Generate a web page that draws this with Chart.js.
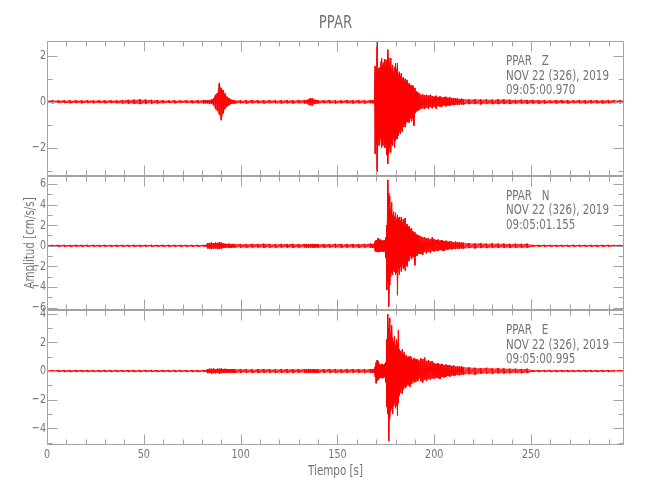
<!DOCTYPE html>
<html><head><meta charset="utf-8">
<script src="https://cdn.jsdelivr.net/npm/chart.js@4.4.1/dist/chart.umd.min.js"></script>
<style>html,body{margin:0;padding:0;background:#fff;} canvas{display:block;}</style>
</head><body>
<canvas id="c" width="650" height="500"></canvas>
<script>
// ---------------- texts ----------------
const stationName = 'PPAR';
const components = ['Z', 'N', 'E'];
const recordDate = 'NOV 22 (326), 2019';
const startTimes = ['09:05:00.970', '09:05:01.155', '09:05:00.995'];
const xTitle = 'Tiempo [s]';
const yTitle = 'Amplitud [cm/s/s]';

// ---------------- axes ----------------
const xRange = [0, 298];
const xMajorTicks = [0, 50, 100, 150, 200, 250];
const xMinorStep = 10;
const yRangeZ = [-3.21, 2.64];
const yTicksZ = [-2, 0, 2];
const yRangeN = [-6.27, 6.81];
const yTicksN = [-6, -4, -2, 0, 2, 4, 6];
const yRangeE = [-5.17, 4.24];
const yTicksE = [-4, -2, 0, 2, 4];

// ---------------- data: time grid (s) and per-sample envelope (cm/s/s) ----------------
const times = [
  0,3,6,9,12,15,18,21,24,27,30,33,36,39,42,45,48,51,54,57,60,63,66,69,72,75,78,81,
  82,83,84,85,86,87,88,89,90,91,92,93,94,95,96,97,
  100,103,106,109,112,115,118,121,124,127,130,
  133,134,135,136,137,138,139,140,
  143,146,149,152,155,158,161,164,167,
  168,169,169.5,170,170.5,171,171.5,172,172.5,173,173.5,174,174.5,175,175.5,176,176.5,177,177.5,178,178.5,179,179.5,180,180.5,181,181.5,182,182.5,183,183.5,184,184.5,185,185.5,186,186.5,187,187.5,188,188.5,189,189.5,190,190.5,191,191.5,192,
  193,194,195,196,197,198,199,200,201,202,203,204,205,206,207,208,209,210,211,212,213,214,215,
  218,221,224,227,230,233,236,239,242,245,248,251,254,257,260,263,266,269,272,275,278,281,284,287,290,293,296,298
];

const hiZ = [
  0.05,0.06,0.05,0.06,0.05,0.06,0.05,0.06,0.05,0.06,0.05,0.06,0.05,0.07,0.08,0.09,0.1,0.09,0.08,0.07,0.06,0.05,0.06,0.05,0.06,0.05,0.06,0.07,
  0.07,0.06,0.08,0.1,0.14,0.3,0.38,0.82,0.6,0.5,0.35,0.22,0.16,0.1,0.08,0.07,
  0.06,0.06,0.07,0.06,0.06,0.07,0.06,0.06,0.07,0.06,0.07,
  0.07,0.08,0.1,0.16,0.14,0.1,0.08,0.07,
  0.06,0.07,0.06,0.06,0.07,0.06,0.07,0.06,0.07,
  0.06,0.07,1.55,1.2,2.6,1.45,1.3,1.5,1.75,1.9,1.6,1.7,1.85,1.5,1.8,2.26,1.9,1.6,1.9,1.45,1.6,1.3,1.5,1.68,1.4,1.68,1.2,1.3,1.1,1.25,1.0,1.05,0.9,1.0,0.85,0.95,0.75,0.8,0.7,0.73,0.6,0.7,0.55,0.6,0.45,0.44,0.4,0.38,
  0.3,0.32,0.28,0.3,0.26,0.3,0.25,0.22,0.26,0.2,0.24,0.18,0.2,0.22,0.17,0.2,0.15,0.16,0.14,0.15,0.12,0.13,0.12,
  0.1,0.11,0.1,0.1,0.09,0.1,0.1,0.09,0.08,0.09,0.08,0.08,0.07,0.07,0.06,0.07,0.07,0.06,0.06,0.07,0.06,0.07,0.06,0.06,0.07,0.06,0.06,0.06
];
const loZ = [
  -0.05,-0.06,-0.05,-0.05,-0.06,-0.05,-0.06,-0.05,-0.06,-0.05,-0.06,-0.05,-0.06,-0.07,-0.08,-0.09,-0.1,-0.08,-0.08,-0.07,-0.06,-0.05,-0.06,-0.05,-0.05,-0.06,-0.06,-0.07,
  -0.06,-0.07,-0.08,-0.1,-0.15,-0.32,-0.4,-0.55,-0.8,-0.5,-0.3,-0.2,-0.15,-0.1,-0.08,-0.07,
  -0.06,-0.07,-0.06,-0.06,-0.07,-0.06,-0.06,-0.07,-0.06,-0.07,-0.06,
  -0.07,-0.08,-0.12,-0.15,-0.16,-0.1,-0.08,-0.07,
  -0.06,-0.06,-0.07,-0.06,-0.06,-0.07,-0.06,-0.07,-0.06,
  -0.06,-0.07,-2.26,-1.8,-3.04,-1.7,-1.9,-1.6,-2.0,-1.7,-1.9,-1.5,-2.0,-1.8,-2.3,-2.7,-2.2,-1.9,-2.2,-1.8,-1.9,-1.6,-2.0,-1.7,-1.6,-1.6,-1.46,-1.3,-1.4,-1.2,-1.3,-1.1,-1.0,-1.1,-0.9,-0.88,-0.8,-0.9,-0.7,-0.85,-0.7,-0.75,-1.05,-0.5,-0.45,-0.36,-0.4,-0.35,
  -0.3,-0.28,-0.3,-0.25,-0.3,-0.22,-0.28,-0.2,-0.3,-0.18,-0.22,-0.2,-0.15,-0.2,-0.16,-0.18,-0.14,-0.15,-0.13,-0.14,-0.12,-0.11,-0.12,
  -0.1,-0.1,-0.11,-0.09,-0.1,-0.1,-0.09,-0.1,-0.08,-0.08,-0.09,-0.07,-0.08,-0.07,-0.06,-0.07,-0.06,-0.07,-0.06,-0.06,-0.07,-0.06,-0.06,-0.07,-0.06,-0.06,-0.06,-0.06
];

const hiN = [
  0.08,0.07,0.08,0.08,0.07,0.08,0.07,0.08,0.08,0.07,0.08,0.07,0.08,0.08,0.07,0.08,0.07,0.08,0.08,0.07,0.08,0.07,0.08,0.08,0.07,0.08,0.07,0.08,
  0.08,0.25,0.28,0.3,0.25,0.3,0.28,0.32,0.3,0.25,0.2,0.18,0.2,0.17,0.18,0.16,
  0.17,0.16,0.18,0.17,0.19,0.17,0.16,0.18,0.17,0.18,0.16,
  0.17,0.18,0.16,0.17,0.18,0.16,0.17,0.16,
  0.17,0.16,0.18,0.17,0.16,0.17,0.16,0.18,0.2,
  0.18,0.2,0.45,0.55,0.5,0.75,0.55,0.6,0.5,0.58,0.45,0.55,0.5,0.8,2.0,6.4,5.1,4.8,3.5,4.2,3.0,3.3,2.8,3.2,2.6,3.0,2.7,2.8,2.4,2.8,2.2,2.6,2.3,2.7,2.0,2.1,1.6,1.9,1.5,1.7,1.3,1.4,1.2,1.3,1.0,1.1,0.9,1.0,
  0.9,0.8,0.85,0.7,0.75,0.6,0.8,0.65,0.55,0.6,0.5,0.55,0.45,0.5,0.4,0.45,0.4,0.35,0.4,0.32,0.35,0.3,0.3,
  0.25,0.22,0.24,0.2,0.22,0.2,0.2,0.18,0.2,0.18,0.2,0.08,0.07,0.08,0.08,0.07,0.08,0.07,0.08,0.08,0.07,0.08,0.07,0.08,0.08,0.07,0.08,0.08
];
const loN = [
  -0.07,-0.08,-0.07,-0.08,-0.08,-0.07,-0.08,-0.07,-0.08,-0.08,-0.07,-0.08,-0.07,-0.08,-0.08,-0.07,-0.08,-0.07,-0.08,-0.08,-0.07,-0.08,-0.07,-0.08,-0.08,-0.07,-0.08,-0.07,
  -0.08,-0.25,-0.3,-0.28,-0.3,-0.25,-0.32,-0.3,-0.28,-0.22,-0.2,-0.17,-0.18,-0.2,-0.16,-0.17,
  -0.16,-0.18,-0.17,-0.16,-0.18,-0.17,-0.19,-0.16,-0.17,-0.18,-0.17,
  -0.16,-0.17,-0.18,-0.16,-0.17,-0.18,-0.16,-0.17,
  -0.18,-0.17,-0.16,-0.18,-0.17,-0.16,-0.18,-0.17,-0.2,
  -0.18,-0.2,-0.5,-0.6,-0.55,-0.62,-0.5,-0.6,-0.55,-0.5,-0.6,-0.5,-0.55,-1.2,-4.3,-3.5,-5.9,-3.8,-3.0,-2.6,-2.8,-2.4,-2.5,-2.8,-2.6,-4.8,-2.2,-2.8,-2.0,-2.5,-1.8,-2.2,-2.0,-2.4,-1.6,-2.0,-1.2,-1.5,-1.0,-1.3,-1.2,-1.1,-0.9,-1.9,-0.8,-1.0,-0.7,-0.8,
  -0.8,-0.9,-0.6,-0.75,-0.55,-0.7,-0.5,-0.55,-0.45,-0.5,-0.4,-0.45,-0.5,-0.35,-0.4,-0.3,-0.35,-0.3,-0.32,-0.28,-0.3,-0.25,-0.28,
  -0.22,-0.25,-0.2,-0.22,-0.2,-0.2,-0.18,-0.2,-0.18,-0.2,-0.18,-0.07,-0.08,-0.08,-0.07,-0.08,-0.07,-0.08,-0.08,-0.07,-0.08,-0.07,-0.08,-0.08,-0.07,-0.08,-0.07,-0.08
];

const hiE = [
  0.06,0.05,0.06,0.06,0.05,0.06,0.05,0.06,0.06,0.05,0.06,0.05,0.06,0.06,0.05,0.06,0.05,0.06,0.06,0.05,0.06,0.05,0.06,0.06,0.05,0.06,0.05,0.06,
  0.06,0.14,0.16,0.15,0.17,0.14,0.16,0.15,0.17,0.14,0.15,0.13,0.14,0.12,0.13,0.12,
  0.12,0.13,0.11,0.12,0.13,0.12,0.11,0.12,0.13,0.12,0.12,
  0.12,0.11,0.13,0.12,0.12,0.13,0.11,0.12,
  0.12,0.13,0.12,0.11,0.12,0.13,0.12,0.12,0.12,
  0.12,0.14,0.3,0.6,0.77,0.7,0.5,0.45,0.4,0.5,0.45,0.4,0.5,0.6,2.2,3.96,3.0,3.7,2.6,3.2,2.3,2.0,2.4,1.8,2.2,1.9,2.87,1.5,1.4,1.2,1.5,1.1,1.3,1.0,1.1,0.9,1.0,0.85,1.05,0.8,0.95,0.75,0.9,0.7,0.85,0.75,0.8,0.7,
  0.9,0.8,0.95,0.7,0.75,0.65,0.7,0.55,0.5,0.55,0.45,0.5,0.4,0.45,0.4,0.42,0.35,0.4,0.3,0.35,0.3,0.32,0.28,
  0.25,0.22,0.2,0.22,0.18,0.2,0.17,0.16,0.15,0.14,0.15,0.06,0.05,0.06,0.06,0.05,0.06,0.05,0.06,0.06,0.05,0.06,0.05,0.06,0.06,0.05,0.06,0.06
];
const loE = [
  -0.05,-0.06,-0.06,-0.05,-0.06,-0.05,-0.06,-0.06,-0.05,-0.06,-0.05,-0.06,-0.06,-0.05,-0.06,-0.05,-0.06,-0.06,-0.05,-0.06,-0.05,-0.06,-0.06,-0.05,-0.06,-0.05,-0.06,-0.06,
  -0.06,-0.15,-0.14,-0.17,-0.15,-0.16,-0.14,-0.17,-0.15,-0.13,-0.14,-0.12,-0.13,-0.12,-0.12,-0.13,
  -0.12,-0.11,-0.13,-0.12,-0.12,-0.11,-0.13,-0.12,-0.12,-0.13,-0.11,
  -0.12,-0.13,-0.12,-0.11,-0.12,-0.12,-0.13,-0.12,
  -0.11,-0.12,-0.13,-0.12,-0.12,-0.11,-0.12,-0.13,-0.12,
  -0.12,-0.14,-0.4,-0.86,-0.7,-0.6,-0.55,-0.45,-0.5,-0.4,-0.5,-0.45,-0.4,-0.8,-2.5,-3.0,-4.9,-3.3,-2.8,-2.6,-3.0,-2.5,-2.3,-2.6,-2.4,-3.1,-2.2,-1.7,-1.5,-1.2,-1.6,-1.3,-1.0,-1.2,-1.1,-0.9,-1.0,-0.8,-1.1,-0.7,-0.9,-0.65,-0.8,-0.6,-0.75,-0.55,-0.7,-0.5,
  -0.7,-0.8,-0.6,-0.7,-0.55,-0.6,-0.5,-0.55,-0.45,-0.5,-0.55,-0.4,-0.45,-0.4,-0.35,-0.4,-0.3,-0.35,-0.3,-0.28,-0.3,-0.25,-0.25,
  -0.22,-0.25,-0.2,-0.18,-0.2,-0.16,-0.17,-0.15,-0.14,-0.15,-0.13,-0.05,-0.06,-0.06,-0.05,-0.06,-0.05,-0.06,-0.06,-0.05,-0.06,-0.05,-0.06,-0.06,-0.05,-0.06,-0.05,-0.06
];

// ---------------- styling ----------------
const FONT = "'DejaVu Sans', sans-serif";
const WEIGHT = 'normal';
const TEXT = '#747474';
const AXIS = '#a3a3a3';
const TRACE = '#ff0000';
const BAND = 'rgba(255,0,0,0.7)';

[hiZ, loZ, hiN, loN, hiE, loE].forEach((a, i) => {
  if (a.length !== times.length) throw new Error('array ' + i + ' length ' + a.length + ' != ' + times.length);
});

// each sample -> vertical stroke from its upper to its lower excursion
function envelope(hi, lo) {
  const pts = [];
  for (let i = 0; i < times.length; i++) {
    pts.push({x: times[i], y: hi[i]});
    pts.push({x: times[i], y: lo[i]});
  }
  return pts;
}
const series = v => times.map((t, i) => ({x: t, y: v[i]}));
const fmt = v => (v < 0 ? '\u2212' + (-v) : String(v));

function panelScale(range, ticks) {
  return {
    type: 'linear', position: 'left', stack: 'panels', stackWeight: 1,
    min: range[0], max: range[1],
    grid: {display: false, drawTicks: false},
    border: {display: false},
    afterBuildTicks: s => { s.ticks = ticks.map(v => ({value: v})); },
    afterFit: s => { s.width = 47; },
    ticks: {display: false}
  };
}

const panels = [
  {id: 'yZ', ticks: yTicksZ},
  {id: 'yN', ticks: yTicksN},
  {id: 'yE', ticks: yTicksE}
];

let SX = 0.74;
function text(ctx, str, x, y, size, align, rot) {
  ctx.save();
  ctx.translate(x, y);
  if (rot) ctx.rotate(rot);
  ctx.scale(SX, 1);
  ctx.font = WEIGHT + ' ' + size + 'px ' + FONT;
  ctx.fillStyle = TEXT;
  ctx.textAlign = align;
  ctx.textBaseline = 'middle';
  ctx.fillText(str, 0, 0);
  ctx.restore();
}

const framePlugin = {
  id: 'frame',
  afterDatasetsDraw(chart) {
    const ctx = chart.ctx;
    const xs = chart.scales.x;
    const area = chart.chartArea;
    const L = Math.round(area.left) + 0.5;
    const R = Math.round(area.right) - 0.5;
    ctx.save();
    ctx.font = WEIGHT + ' 14px ' + FONT;
    SX = 103 / ctx.measureText(recordDate).width;
    ctx.strokeStyle = AXIS;
    ctx.lineWidth = 1;
    panels.forEach((p, k) => {
      const s = chart.scales[p.id];
      const T = Math.round(s.top) + 0.5;
      const B = Math.round(s.bottom) - 0.5;
      ctx.beginPath();
      ctx.moveTo(L, T); ctx.lineTo(R, T); ctx.lineTo(R, B); ctx.lineTo(L, B); ctx.closePath();
      for (let v = xRange[0]; v <= xRange[1]; v += xMinorStep) {
        const px = Math.round(xs.getPixelForValue(v)) + 0.5;
        const len = xMajorTicks.includes(v) ? 10 : 5;
        ctx.moveTo(px, T); ctx.lineTo(px, T + len);
        ctx.moveTo(px, B); ctx.lineTo(px, B - len);
      }
      for (let v = Math.ceil(s.min); v <= Math.floor(s.max); v++) {
        const py = Math.round(s.getPixelForValue(v)) + 0.5;
        const len = p.ticks.includes(v) ? 10 : 5;
        ctx.moveTo(L, py); ctx.lineTo(L + len, py);
        ctx.moveTo(R, py); ctx.lineTo(R - len, py);
      }
      ctx.stroke();
      // y tick labels
      s.ticks.forEach(t => text(ctx, fmt(t.value), area.left - 1, s.getPixelForValue(t.value), 13, 'right'));
      // station annotation
      const lines = [stationName + '   ' + components[k], recordDate, startTimes[k]];
      lines.forEach((t, j) => text(ctx, t, area.right - 118, s.top + 20.5 + j * 14.5, 14, 'left'));
    });
    // x tick labels and titles
    xs.ticks.forEach(t => text(ctx, String(t.value), xs.getPixelForValue(t.value), area.bottom + 9.5, 13, 'center'));
    text(ctx, xTitle, (area.left + area.right) / 2, area.bottom + 26.5, 14, 'center');
    text(ctx, stationName, (area.left + area.right) / 2, 23.4, 18, 'center');
    const sN = chart.scales.yN;
    text(ctx, yTitle, 30, (sN.top + sN.bottom) / 2, 14, 'center', -Math.PI / 2);
    ctx.restore();
  }
};

const line = {borderColor: TRACE, borderWidth: 1, pointRadius: 0, tension: 0, fill: false};
const edge = {borderWidth: 0, borderColor: 'rgba(0,0,0,0)', pointRadius: 0, tension: 0};

function panelSets(k, hi, lo, yId) {
  return [
    Object.assign({label: components[k] + ' max', data: series(hi), xAxisID: 'x', yAxisID: yId, fill: false}, edge),
    Object.assign({label: components[k] + ' min', data: series(lo), xAxisID: 'x', yAxisID: yId, fill: '-1', backgroundColor: BAND}, edge),
    Object.assign({label: components[k], data: envelope(hi, lo), xAxisID: 'x', yAxisID: yId}, line)
  ];
}

new Chart(document.getElementById('c'), {
  type: 'line',
  data: {
    datasets: [].concat(
      panelSets(0, hiZ, loZ, 'yZ'),
      panelSets(1, hiN, loN, 'yN'),
      panelSets(2, hiE, loE, 'yE')
    )
  },
  options: {
    responsive: false,
    animation: false,
    events: [],
    layout: {padding: {left: 0, right: 26, top: 41, bottom: 0}},
    plugins: {
      legend: {display: false},
      tooltip: {enabled: false},
      title: {display: false}
    },
    scales: {
      yE: panelScale(yRangeE, yTicksE),
      yN: panelScale(yRangeN, yTicksN),
      yZ: panelScale(yRangeZ, yTicksZ),
      x: {
        type: 'linear', position: 'bottom', min: xRange[0], max: xRange[1],
        grid: {display: false, drawTicks: false},
        border: {display: false},
        afterBuildTicks: s => { s.ticks = xMajorTicks.map(v => ({value: v})); },
        afterFit: s => { s.width; s.height = 55; },
        ticks: {display: false}
      }
    }
  },
  plugins: [framePlugin]
});
</script>
</body></html>
